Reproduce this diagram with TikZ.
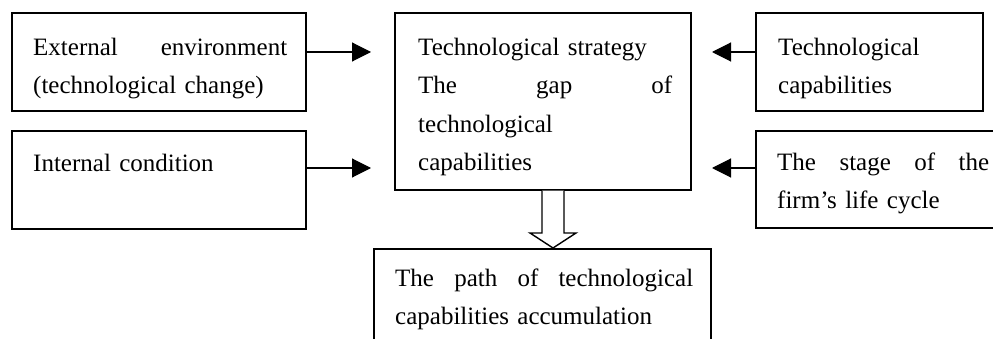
\documentclass[tikz,border=0pt]{standalone}
\usepackage{fontspec}
\setmainfont{Liberation Serif}
\usetikzlibrary{arrows.meta}
\begin{document}
\begin{tikzpicture}[x=1pt,y=-1pt,
  box/.style={draw, line width=1.6pt, rectangle, inner sep=0pt, anchor=north west},
  txt/.style={anchor=north west, inner sep=0pt, align=left, font=\fontsize{25}{38.5}\selectfont},
  arr/.style={line width=1.1pt, -{Triangle[length=19pt,width=19pt]}},
  hollow/.style={line width=1.4pt, fill=white, line join=miter}]
\useasboundingbox (0,0) rectangle (993,339);
\clip (0,0) rectangle (993,339);
% boxes
\node[box, minimum width=294pt, minimum height=98pt] (A) at (11,12) {};
\node[box, minimum width=294pt, minimum height=98pt] (B) at (11,130) {};
\node[box, minimum width=296pt, minimum height=177pt] (C) at (394,12) {};
\node[box, minimum width=227pt, minimum height=98pt] (D) at (755,12) {};
\node[box, minimum width=260pt, minimum height=97pt] (E) at (755,130) {};
\node[box, minimum width=337pt, minimum height=120pt] (F) at (373,248) {};
% texts
\node[txt, text width=254pt] (tA) at (33,25) {\rule{0pt}{30pt}External\hfill environment\\(technological change)};
\node[txt, text width=254pt] (tB) at (33,141) {\rule{0pt}{30pt}Internal condition};
\node[txt, text width=254pt] (tC) at (418,25) {\rule{0pt}{30pt}Technological strategy\\The\hfill gap\hfill of\\technological\\capabilities};
\node[txt, text width=190pt] (tD) at (778,25) {\rule{0pt}{30pt}Technological\\capabilities};
\node[txt, text width=212pt] (tE) at (777,140) {\rule{0pt}{30pt}The\hfill stage\hfill of\hfill the\\firm’s life cycle};
\node[txt, text width=298pt] (tF) at (395,256) {\rule{0pt}{30pt}The\hfill path\hfill of\hfill technological\\capabilities accumulation};
% arrows
\coordinate (pA) at (371,52);
\coordinate (pB) at (371,168);
\coordinate (pD) at (712,52);
\coordinate (pE) at (712,168);
\draw[arr] (A.east |- pA) -- (pA);
\draw[arr] (B.east |- pB) -- (pB);
\draw[arr] (D.west |- pD) -- (pD);
\draw[arr] (E.west |- pE) -- (pE);
% hollow block arrow from C to F
\draw[hollow] (542,0 |- C.south) -- (542,233) -- (530,233) -- (553,0 |- F.north) -- (576,233) -- (564,233) -- (564,0 |- C.south);
\end{tikzpicture}
\end{document}
